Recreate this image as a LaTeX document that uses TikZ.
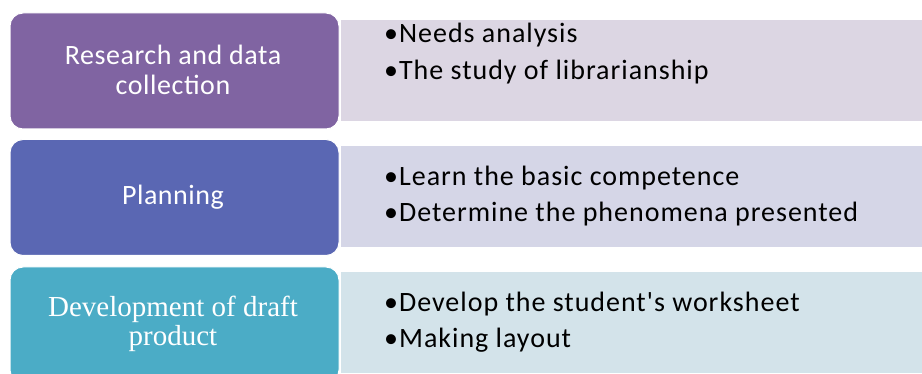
\documentclass[tikz,border=0pt]{standalone}
\usepackage{fontspec}
\setmainfont{Carlito}[Ligatures=TeXOff]
\newfontfamily\bodyfont{Carlito}[Ligatures=TeXOff,LetterSpace=3.5]
\newfontfamily\headfont{Carlito}[Ligatures=TeXOff,LetterSpace=2]
\newfontfamily\serifb{Liberation Serif}
\definecolor{cA}{HTML}{8064A2}
\definecolor{cB}{HTML}{5A67B3}
\definecolor{cC}{HTML}{4BACC6}
\definecolor{lA}{HTML}{DCD6E3}
\definecolor{lB}{HTML}{D5D6E7}
\definecolor{lC}{HTML}{D3E3EA}
\begin{document}
\begin{tikzpicture}[x=1pt,y=-1pt,
  lbox/.style={draw=white,line width=1pt,rounded corners=13pt,minimum width=329pt,minimum height=116pt,inner sep=0pt},
  rbox/.style={minimum width=581pt,minimum height=101pt,inner sep=0pt},
  ltxt/.style={anchor=base,inner sep=0pt,text=white,font=\headfont\fontsize{28}{30}\selectfont},
  stxt/.style={anchor=base,inner sep=0pt,text=white,font=\serifb\fontsize{29}{30}\selectfont},
  btxt/.style={anchor=base west,inner sep=0pt,text=black,font=\bodyfont\fontsize{28}{30}\selectfont}]
\useasboundingbox (0,0) rectangle (922,374);
\fill[white] (0,0) rectangle (922,374);
% right panels
\node[rbox,fill=lA] (r1) at (631.5,70.5) {};
\node[rbox,fill=lB] (r2) at (631.5,197) {};
\node[rbox,fill=lC] (r3) at (631.5,322.5) {};
% left boxes
\node[lbox,fill=cA] (l1) at (174.5,71) {};
\node[lbox,fill=cB] (l2) at (174.5,197.5) {};
\node[lbox,fill=cC] (l3) at (174.5,325) {};
\node[ltxt] (l1a) at (173,65) {Research and data};
\node[ltxt] (l1b) at (173,95) {collection};
\node[ltxt] (l2a) at (173,205) {Planning};
\node[stxt] (l3a) at (173,317) {Development of draft};
\node[stxt] (l3b) at (173,345) {product};
% bullet texts
\node[btxt] (t1a) at (384,43) {•Needs analysis};
\node[btxt] (t1b) at (384,80) {•The study of librarianship};
\node[btxt] (t2a) at (384,186) {•Learn the basic competence};
\node[btxt] (t2b) at (384,222) {•Determine the phenomena presented};
\node[btxt] (t3a) at (384,312) {•Develop the student's worksheet};
\node[btxt] (t3b) at (384,348) {•Making layout};
\end{tikzpicture}
\end{document}
